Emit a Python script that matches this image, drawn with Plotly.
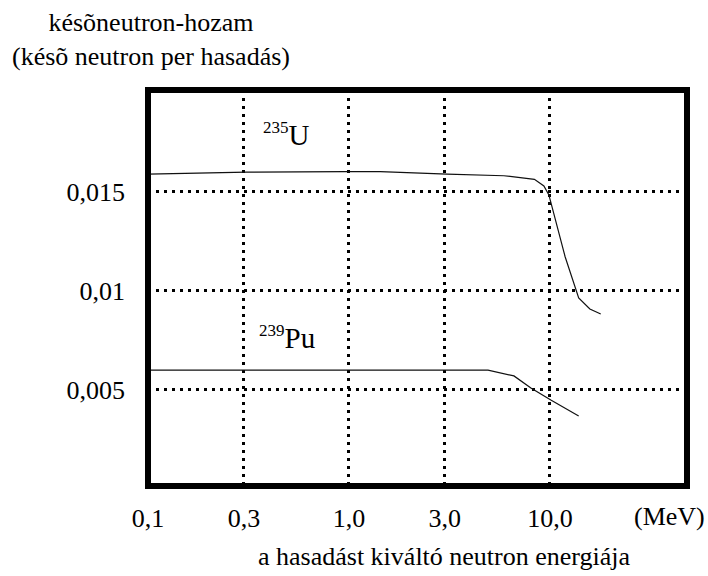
import numpy as np
import plotly.graph_objects as go

# Energy (MeV) and delayed-neutron yield (per fission)
u235_energy = [0.1, 0.31, 0.955, 1.43, 3.08, 5.9, 8.37, 9.33, 9.88, 11.9, 13.9, 15.8, 17.9]
u235_yield = [0.0159, 0.0160, 0.01603, 0.01603, 0.0159, 0.01582, 0.01564, 0.0153, 0.01485, 0.01173, 0.00965, 0.00909, 0.00884]

pu239_energy = [0.1, 4.92, 6.62, 8.04, 10.1, 13.9]
pu239_yield = [0.0060, 0.0060, 0.00571, 0.0051, 0.00449, 0.00369]

x_tickvals = [0.1, 0.3, 1.0, 3.0, 10.0]
x_ticktext = ["0,1", "0,3", "1,0", "3,0", "10,0"]
y_tickvals = [0.005, 0.01, 0.015]
y_ticktext = ["0,005", "0,01", "0,015"]

FONT = "Liberation Serif"
FS = 26

fig = go.Figure()
fig.add_trace(go.Scatter(x=u235_energy, y=u235_yield, mode="lines",
                         line=dict(color="#111111", width=1.2), showlegend=False))
fig.add_trace(go.Scatter(x=pu239_energy, y=pu239_yield, mode="lines",
                         line=dict(color="#111111", width=1.2), showlegend=False))

grid = dict(showgrid=True, gridcolor="black", gridwidth=2.5, griddash="3px,5px",
            zeroline=False, showline=False, ticks="",
            tickfont=dict(family=FONT, size=FS, color="black"))

fig.update_xaxes(type="log", range=[-1, 1.682], tickvals=x_tickvals, ticktext=x_ticktext,
                 ticklabelstandoff=14, **grid)
fig.update_yaxes(range=[0.00015, 0.02015], tickvals=y_tickvals, ticktext=y_ticktext,
                 ticklabelstandoff=22, **grid)

# thick frame
fig.add_shape(type="rect", xref="paper", yref="paper", x0=0, x1=1, y0=0, y1=1,
              line=dict(color="black", width=6), layer="above")

ann_font = dict(family=FONT, size=FS, color="black")
iso_font = dict(family=FONT, size=29, color="black")
annotations = [
    dict(text="<sup><span style='font-size:17px'>235</span></sup>U",
         x=-0.438, y=0.0179, xref="x", yref="y",
         xanchor="left", yanchor="middle", showarrow=False, font=iso_font),
    dict(text="<sup><span style='font-size:17px'>239</span></sup>Pu",
         x=-0.458, y=0.00765, xref="x", yref="y",
         xanchor="left", yanchor="middle", showarrow=False, font=ann_font | dict(size=29)),
    dict(text="késõneutron-hozam<br>(késõ neutron per hasadás)", x=0.006, y=1.212,
         xref="paper", yref="paper", xanchor="center", yanchor="top", align="center",
         showarrow=False, font=ann_font),
    dict(text="(MeV)", x=0.968, y=-0.078, xref="paper", yref="paper",
         xanchor="center", yanchor="middle", showarrow=False, font=ann_font),
    dict(text="a hasadást kiváltó neutron energiája", x=0.551, y=-0.177,
         xref="paper", yref="paper", xanchor="center", yanchor="middle",
         showarrow=False, font=ann_font),
]

fig.update_layout(
    width=708, height=576,
    margin=dict(l=148, r=21, t=90, b=90),
    paper_bgcolor="white", plot_bgcolor="white",
    font=dict(family=FONT, size=FS, color="black"),
    annotations=annotations,
    showlegend=False,
)

fig.write_html("out.html")
